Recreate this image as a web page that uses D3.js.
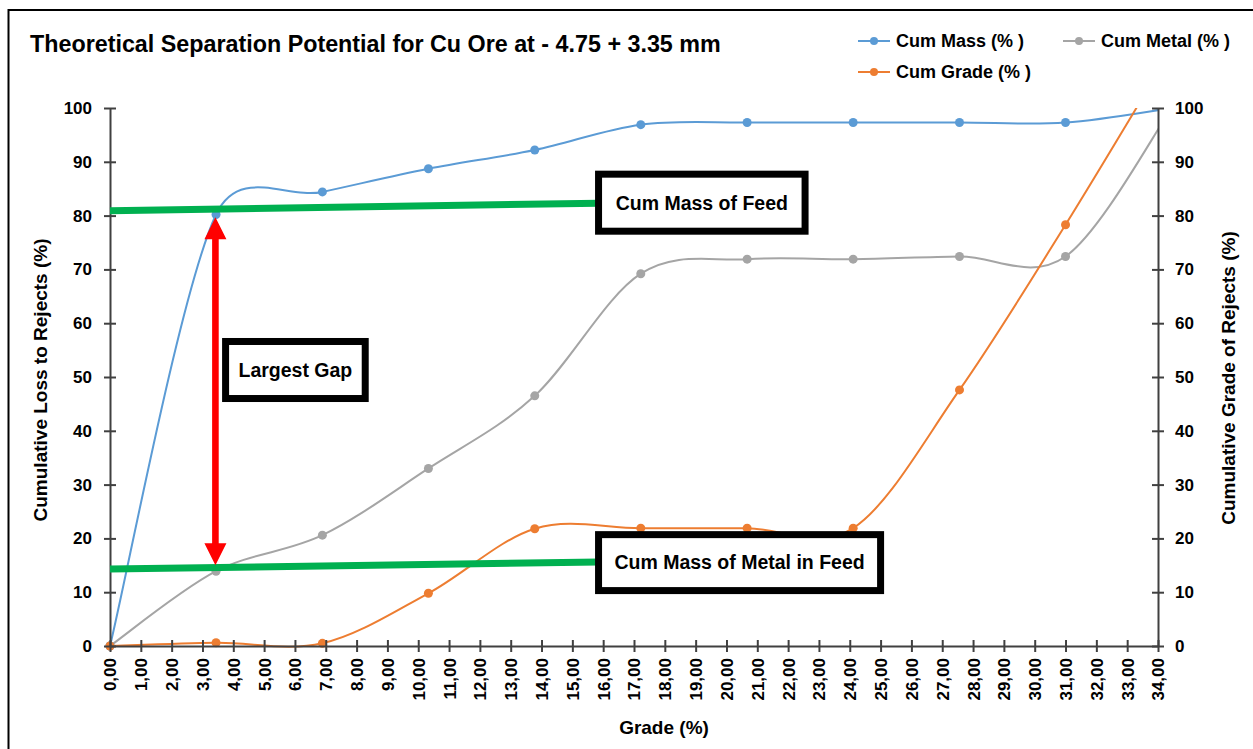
<!DOCTYPE html>
<html>
<head>
<meta charset="utf-8">
<script src="https://cdn.jsdelivr.net/npm/d3@7"></script>
<style>
  body { margin: 0; background: #fff; }
  text { font-family: "Liberation Sans", Arial, sans-serif; }
</style>
</head>
<body>
<div id="chart"></div>
<script>
// values
const grade = [0, 3.44, 6.89, 10.33, 13.78, 17.22, 20.67, 24.11, 27.56, 31.0, 34.45];
const cumMass = [0, 80.2, 84.4, 88.7, 92.2, 96.9, 97.3, 97.3, 97.3, 97.3, 100];
const cumMetal = [0, 13.9, 20.6, 33.0, 46.5, 69.2, 71.9, 71.9, 72.4, 72.4, 100];
const cumGrade = [0, 0.6, 0.5, 9.8, 21.8, 21.9, 21.9, 21.9, 47.6, 78.3, 111];
const seriesNames = ["Cum Mass (% )", "Cum Metal (% )", "Cum Grade (% )"];
const xTicks = d3.range(0, 35, 1);
const yTicks = d3.range(0, 101, 10);

const colors = ["#5b9bd5", "#a5a5a5", "#ed7d31"];

// spreadsheet-style smoothed line: bezier with 1/6 tangents, capped at half the segment
function smoothPath(pts) {
  const p = d3.path();
  const dist = (a, b) => Math.hypot(b[0] - a[0], b[1] - a[1]);
  p.moveTo(pts[0][0], pts[0][1]);
  for (let i = 0; i < pts.length - 1; i++) {
    const p0 = pts[i - 1] || pts[i], p1 = pts[i], p2 = pts[i + 1], p3 = pts[i + 2] || pts[i + 1];
    const d12 = dist(p1, p2);
    let f1 = 1 / 6, f2 = 1 / 6;
    const d02 = dist(p0, p2), d13 = dist(p1, p3);
    if (d02 / 6 > d12 / 2) f1 = d12 / 2 / d02;
    if (d13 / 6 > d12 / 2) f2 = d12 / 2 / d13;
    p.bezierCurveTo(
      p1[0] + f1 * (p2[0] - p0[0]), p1[1] + f1 * (p2[1] - p0[1]),
      p2[0] - f2 * (p3[0] - p1[0]), p2[1] - f2 * (p3[1] - p1[1]),
      p2[0], p2[1]);
  }
  return p.toString();
}

function renderChart() {
  const W = 1253, H = 749;
  const plot = { left: 110, right: 1158, top: 108, bottom: 646 };

  const svg = d3.select("#chart").append("svg")
    .attr("width", W).attr("height", H);

  svg.append("rect").attr("width", W).attr("height", H).attr("fill", "#fff");
  // chart frame
  svg.append("rect")
    .attr("x", 8.5).attr("y", 10).attr("width", W + 20).attr("height", H + 20)
    .attr("fill", "none").attr("stroke", "#000").attr("stroke-width", 2);

  const x = d3.scaleLinear().domain([0, 34]).range([plot.left, plot.right]);
  const y = d3.scaleLinear().domain([0, 100]).range([plot.bottom, plot.top]);

  svg.append("text")
    .attr("x", 30).attr("y", 52)
    .attr("font-size", 23.3).attr("font-weight", "bold")
    .text("Theoretical Separation Potential for Cu Ore at - 4.75 + 3.35 mm");

  // clip lines to the plot area
  svg.append("clipPath").attr("id", "plotclip")
    .append("rect")
    .attr("x", plot.left - 6).attr("y", plot.top)
    .attr("width", plot.right - plot.left + 6)
    .attr("height", plot.bottom - plot.top + 6);

  const series = [cumMass, cumMetal, cumGrade].map((vals, i) => ({
    name: seriesNames[i],
    color: colors[i],
    points: grade.map((g, j) => ({ x: g, y: vals[j] }))
  }));

  const lines = svg.append("g").attr("clip-path", "url(#plotclip)");
  series.forEach(s => {
    lines.append("path")
      .attr("d", smoothPath(s.points.map(d => [x(d.x), y(d.y)])))
      .attr("fill", "none")
      .attr("stroke", s.color)
      .attr("stroke-width", 2);
  });

  series.forEach(s => {
    svg.append("g").selectAll("circle")
      .data(s.points.filter(p => p.x <= 34 && p.y <= 100))
      .enter().append("circle")
      .attr("cx", d => x(d.x)).attr("cy", d => y(d.y))
      .attr("r", 4.5).attr("fill", s.color);
  });

  // axes
  const fmtX = d => d3.format(".2f")(d).replace(".", ",");

  const xAxis = svg.append("g")
    .attr("transform", `translate(0,${plot.bottom})`)
    .call(d3.axisBottom(x).tickValues(xTicks).tickFormat(fmtX).tickSize(6).tickSizeOuter(0));
  xAxis.selectAll(".tick line").attr("y1", -6);
  xAxis.selectAll(".tick text")
    .attr("transform", "rotate(-90)")
    .attr("text-anchor", "end")
    .attr("x", -12).attr("y", 0).attr("dy", "0.35em");

  const yLeft = svg.append("g")
    .attr("transform", `translate(${plot.left},0)`)
    .call(d3.axisLeft(y).tickValues(yTicks).tickSize(6).tickPadding(12).tickSizeOuter(0));
  yLeft.selectAll(".tick line").attr("x1", 6);

  const yRight = svg.append("g")
    .attr("transform", `translate(${plot.right},0)`)
    .call(d3.axisRight(y).tickValues(yTicks).tickSize(6).tickPadding(11).tickSizeOuter(0));
  yRight.selectAll(".tick line").attr("x1", -6);

  svg.selectAll(".domain, .tick line").attr("stroke", "#404040").attr("stroke-width", 2);
  svg.selectAll(".tick text")
    .attr("font-family", "Liberation Sans, Arial, sans-serif")
    .attr("font-size", 17).attr("font-weight", "bold").attr("fill", "#000");

  svg.append("text")
    .attr("x", 664).attr("y", 734)
    .attr("text-anchor", "middle").attr("font-size", 19).attr("font-weight", "bold")
    .text("Grade (%)");
  svg.append("text")
    .attr("transform", `translate(47,380) rotate(-90)`)
    .attr("text-anchor", "middle").attr("font-size", 19).attr("font-weight", "bold")
    .text("Cumulative Loss to Rejects (%)");
  svg.append("text")
    .attr("transform", `translate(1235,378) rotate(-90)`)
    .attr("text-anchor", "middle").attr("font-size", 19).attr("font-weight", "bold")
    .text("Cumulative Grade of Rejects (%)");

  // legend
  const legendPos = [[858, 41], [1063, 41], [858, 72]];
  series.forEach((s, i) => {
    const [lx, ly] = legendPos[i];
    const g = svg.append("g").attr("transform", `translate(${lx},${ly})`);
    g.append("line").attr("x1", 0).attr("x2", 32).attr("stroke", s.color).attr("stroke-width", 2);
    g.append("circle").attr("cx", 16).attr("r", 4).attr("fill", s.color);
    g.append("text").attr("x", 38).attr("dy", "0.35em")
      .attr("font-size", 18).attr("font-weight", "bold").text(s.name);
  });

  // annotations (data coordinates)
  const greenLines = [
    { x1: 0, y1: 80.9, x2: 15.85, y2: 82.3 },
    { x1: 0, y1: 14.3, x2: 15.85, y2: 15.6 }
  ];
  greenLines.forEach(l => {
    svg.append("line")
      .attr("x1", x(l.x1)).attr("y1", y(l.y1))
      .attr("x2", x(l.x2)).attr("y2", y(l.y2))
      .attr("stroke", "#00b050").attr("stroke-width", 7);
  });

  // red double arrow
  const arrow = { x: 3.42, top: 79.7, bottom: 15.0 };
  const ax = x(arrow.x), at = y(arrow.top), ab = y(arrow.bottom);
  const head = 22, hw = 11, sw = 3.3;
  svg.append("path")
    .attr("d", `M${ax},${at} L${ax + hw},${at + head} L${ax + sw},${at + head}
      L${ax + sw},${ab - head} L${ax + hw},${ab - head} L${ax},${ab}
      L${ax - hw},${ab - head} L${ax - sw},${ab - head} L${ax - sw},${at + head}
      L${ax - hw},${at + head} Z`)
    .attr("fill", "#ff0000");

  const boxes = [
    { label: "Cum Mass of Feed", x0: 15.85, x1: 22.55, y0: 87.7, y1: 77.1 },
    { label: "Cum Mass of Metal in Feed", x0: 15.85, x1: 25.0, y0: 20.7, y1: 10.3 },
    { label: "Largest Gap", x0: 3.75, x1: 8.28, y0: 56.6, y1: 46.0 }
  ];
  boxes.forEach(b => {
    svg.append("rect")
      .attr("x", x(b.x0)).attr("y", y(b.y0))
      .attr("width", x(b.x1) - x(b.x0)).attr("height", y(b.y1) - y(b.y0))
      .attr("fill", "#fff").attr("stroke", "#000").attr("stroke-width", 7);
    svg.append("text")
      .attr("x", (x(b.x0) + x(b.x1)) / 2).attr("y", (y(b.y0) + y(b.y1)) / 2)
      .attr("dy", "0.35em").attr("text-anchor", "middle")
      .attr("font-family", "Lato, 'Open Sans', sans-serif")
      .attr("font-size", 19.5).attr("font-weight", "bold")
      .text(b.label);
  });
}

renderChart();
</script>
</body>
</html>
